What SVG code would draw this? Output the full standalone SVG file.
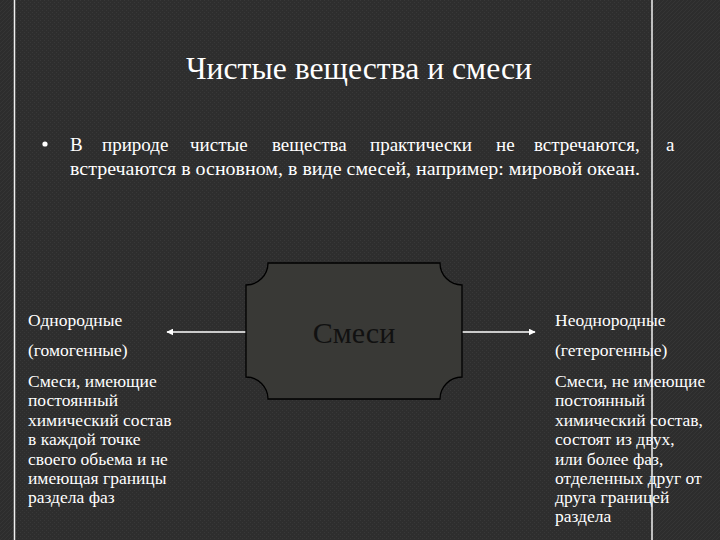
<svg xmlns="http://www.w3.org/2000/svg" width="720" height="540" viewBox="0 0 720 540">
  <defs>
    <pattern id="texA" width="4" height="4" patternUnits="userSpaceOnUse">
      <rect width="4" height="4" fill="#2d2d2d"/>
      <path d="M0 4 L4 0" stroke="#353535" stroke-width="1"/>
    </pattern>
    <pattern id="texB" width="4" height="4" patternUnits="userSpaceOnUse">
      <rect width="4" height="4" fill="#2e2e2e"/>
      <rect x="0" y="0" width="1" height="1" fill="#383838"/>
      <rect x="2" y="2" width="1" height="1" fill="#383838"/>
    </pattern>
    <marker id="arrow" viewBox="0 0 10 10" refX="9" refY="5" markerWidth="7" markerHeight="7" markerUnits="userSpaceOnUse" orient="auto">
      <path d="M0 0 L10 5 L0 10 Z" fill="#ffffff"/>
    </marker>
    <style>
      .title { font-family: "Liberation Serif", "DejaVu Serif", serif; font-size: 32px; fill: #ffffff; }
      .body { font-family: "Liberation Serif", "DejaVu Serif", serif; font-size: 19px; fill: #ffffff; }
      .side { font-family: "Liberation Serif", "DejaVu Serif", serif; font-size: 17.5px; fill: #ffffff; }
      .node { font-family: "Liberation Serif", "DejaVu Serif", serif; font-size: 30px; fill: #111111; }
      .conn { stroke: #ffffff; stroke-width: 1.3; fill: none; marker-end: url(#arrow); }
      .frame { stroke: #f0f0f0; stroke-width: 1.5; }
    </style>
  </defs>

  <rect width="720" height="540" fill="url(#texA)"/>
  <rect x="15" y="0" width="637" height="540" fill="url(#texB)"/>

  <g id="title">
    <text class="title" x="359" y="79" text-anchor="middle" textLength="346" lengthAdjust="spacingAndGlyphs">Чистые вещества и смеси</text>
  </g>

  <g id="bullet">
    <circle cx="45" cy="144" r="2.6" fill="#ffffff"/>
    <text class="body" y="151">
      <tspan x="70">В</tspan>
      <tspan x="102">природе</tspan>
      <tspan x="190">чистые</tspan>
      <tspan x="272">вещества</tspan>
      <tspan x="370">практически</tspan>
      <tspan x="496">не</tspan>
      <tspan x="534">встречаются,</tspan>
      <tspan x="666">а</tspan>
    </text>
    <text class="body" x="70" y="175" textLength="570" lengthAdjust="spacingAndGlyphs">встречаются в основном, в виде смесей, например: мировой океан.</text>
  </g>

  <g id="connectors">
    <line class="conn" x1="246" y1="332" x2="167" y2="332"/>
    <line class="conn" x1="462" y1="332" x2="535" y2="332"/>
  </g>

  <g id="mixtures">
    <path d="M268 263 H440 A22 22 0 0 0 462 285 V377 A22 22 0 0 0 440 399 H268 A22 22 0 0 0 246 377 V285 A22 22 0 0 0 268 263 Z" fill="#393936" stroke="#000000" stroke-width="1.3"/>
    <text class="node" x="354" y="343" text-anchor="middle">Смеси</text>
  </g>

  <g id="homogeneous">
    <text class="side" x="28" y="326">Однородные</text>
    <text class="side" x="28" y="356">(гомогенные)</text>
    <text class="side" x="28" y="387">Смеси, имеющие</text>
    <text class="side" x="28" y="406">постоянный</text>
    <text class="side" x="28" y="426">химический состав</text>
    <text class="side" x="28" y="445">в каждой точке</text>
    <text class="side" x="28" y="465">своего обьема и не</text>
    <text class="side" x="28" y="484">имеющая границы</text>
    <text class="side" x="28" y="503">раздела фаз</text>
  </g>

  <g id="heterogeneous">
    <text class="side" x="555" y="326">Неоднородные</text>
    <text class="side" x="555" y="356">(гетерогенные)</text>
    <text class="side" x="555" y="387">Смеси, не имеющие</text>
    <text class="side" x="555" y="406">постоянный</text>
    <text class="side" x="555" y="426">химический состав,</text>
    <text class="side" x="555" y="445">состоят из двух,</text>
    <text class="side" x="555" y="465">или более фаз,</text>
    <text class="side" x="555" y="484">отделенных друг от</text>
    <text class="side" x="555" y="503">друга границей</text>
    <text class="side" x="555" y="522">раздела</text>
  </g>

  <line class="frame" x1="14.5" y1="0" x2="14.5" y2="540"/>
  <line class="frame" x1="652" y1="0" x2="652" y2="540"/>
</svg>
